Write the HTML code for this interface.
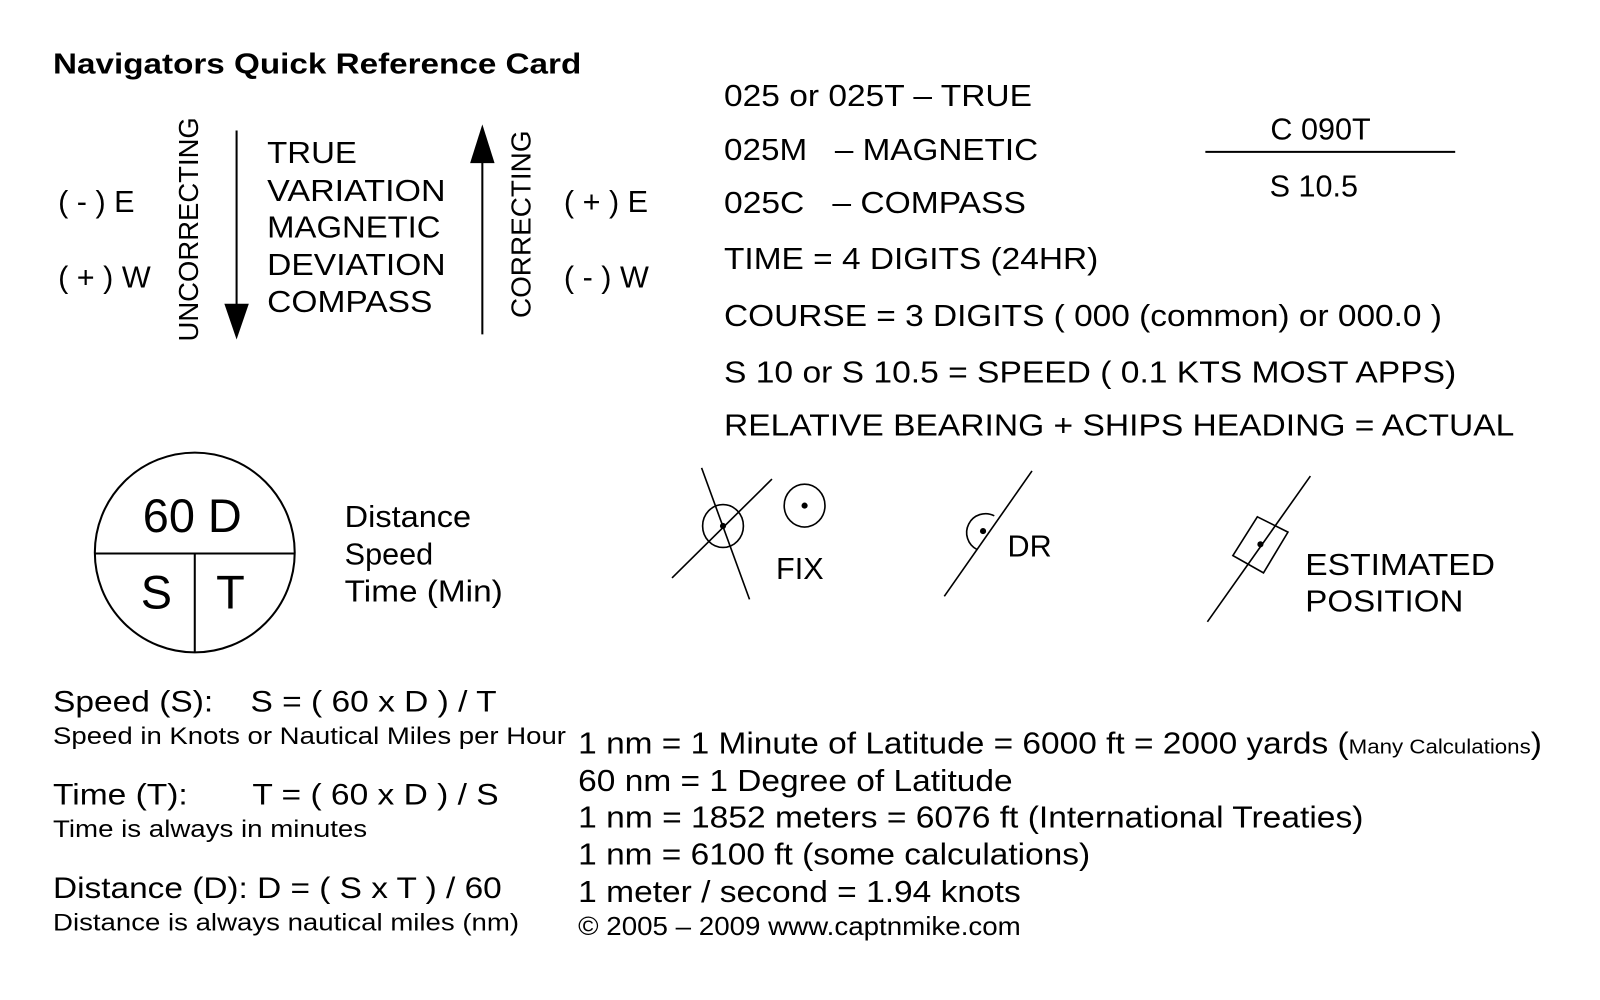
<!DOCTYPE html>
<html><head><style>html,body{margin:0;padding:0;background:#fff}svg{display:block}text{font-family:"Liberation Sans",Arial,sans-serif;fill:#000}</style></head>
<body>
<svg width="1600" height="1000" viewBox="0 0 1569 981" preserveAspectRatio="none" xmlns="http://www.w3.org/2000/svg">
<rect width="1569" height="981" fill="#fff"/>
<text x="52" y="72" font-size="28" font-weight="bold" textLength="518" lengthAdjust="spacingAndGlyphs">Navigators Quick Reference Card</text>
<g font-size="30">
<text x="57" y="208">( - ) E</text>
<text x="57" y="282">( + ) W</text>
<text x="553" y="208">( + ) E</text>
<text x="553" y="282">( - ) W</text>
<text x="262" y="160" textLength="88" lengthAdjust="spacingAndGlyphs">TRUE</text>
<text x="262" y="197" textLength="175" lengthAdjust="spacingAndGlyphs">VARIATION</text>
<text x="262" y="233" textLength="170" lengthAdjust="spacingAndGlyphs">MAGNETIC</text>
<text x="262" y="270" textLength="175" lengthAdjust="spacingAndGlyphs">DEVIATION</text>
<text x="262" y="306" textLength="162" lengthAdjust="spacingAndGlyphs">COMPASS</text>
</g>
<text transform="translate(194,335) rotate(-90)" font-size="27" textLength="220" lengthAdjust="spacingAndGlyphs">UNCORRECTING</text>
<text transform="translate(520,312) rotate(-90)" font-size="27" textLength="184" lengthAdjust="spacingAndGlyphs">CORRECTING</text>
<line x1="232" y1="128" x2="232" y2="305" stroke="#000" stroke-width="2"/>
<polygon points="220,298 244,298 232,333" fill="#000"/>
<line x1="473" y1="155" x2="473" y2="328" stroke="#000" stroke-width="2"/>
<polygon points="461,160 485,160 473,122" fill="#000"/>
<g font-size="30">
<text x="710" y="104" textLength="302" lengthAdjust="spacingAndGlyphs">025 or 025T – TRUE</text>
<text x="710" y="157" textLength="308" lengthAdjust="spacingAndGlyphs">025M&#160;&#160;&#160;– MAGNETIC</text>
<text x="710" y="209" textLength="296" lengthAdjust="spacingAndGlyphs">025C&#160;&#160;&#160;– COMPASS</text>
<text x="710" y="264" textLength="367" lengthAdjust="spacingAndGlyphs">TIME = 4 DIGITS (24HR)</text>
<text x="710" y="320" textLength="704" lengthAdjust="spacingAndGlyphs">COURSE = 3 DIGITS ( 000 (common) or 000.0 )</text>
<text x="710" y="375" textLength="718" lengthAdjust="spacingAndGlyphs">S 10 or S 10.5 = SPEED ( 0.1 KTS MOST APPS)</text>
<text x="710" y="427" textLength="775" lengthAdjust="spacingAndGlyphs">RELATIVE BEARING + SHIPS HEADING = ACTUAL</text>
<text x="1295" y="137" text-anchor="middle">C 090T</text>
<text x="1245" y="193">S 10.5</text>
</g>
<line x1="1182" y1="149" x2="1427" y2="149" stroke="#000" stroke-width="2"/>
<circle cx="191" cy="542" r="98" fill="none" stroke="#000" stroke-width="2"/>
<line x1="93" y1="543" x2="289" y2="543" stroke="#000" stroke-width="2"/>
<line x1="191" y1="543" x2="191" y2="640" stroke="#000" stroke-width="2"/>
<text x="140" y="522" font-size="46">60 D</text>
<text x="138" y="597" font-size="46">S</text>
<text x="212" y="597" font-size="46">T</text>
<g font-size="30">
<text x="338" y="517" textLength="124" lengthAdjust="spacingAndGlyphs">Distance</text>
<text x="338" y="554">Speed</text>
<text x="338" y="590" textLength="155" lengthAdjust="spacingAndGlyphs">Time (Min)</text>
<text x="761" y="568">FIX</text>
<text x="988" y="546">DR</text>
<text x="1280" y="564" textLength="186" lengthAdjust="spacingAndGlyphs">ESTIMATED</text>
<text x="1280" y="600" textLength="155" lengthAdjust="spacingAndGlyphs">POSITION</text>
</g>
<g stroke="#000" stroke-width="1.6" fill="none">
<line x1="659" y1="567" x2="757" y2="470"/>
<line x1="688" y1="459" x2="735" y2="588"/>
<ellipse cx="709" cy="516" rx="20" ry="21"/>
<ellipse cx="789" cy="496" rx="20" ry="21"/>
<line x1="926" y1="585" x2="1012" y2="462"/>
<path d="M975,506 A18,18 0 1 0 958,539"/>
<line x1="1184" y1="610" x2="1285" y2="467"/>
<polygon points="1233,507 1263,522 1239,562 1209,545"/>
</g>
<circle cx="709" cy="516" r="3" fill="#000"/>
<circle cx="789" cy="496" r="3" fill="#000"/>
<circle cx="964" cy="521" r="3" fill="#000"/>
<circle cx="1236" cy="534" r="3" fill="#000"/>
<text x="52" y="698" font-size="29" xml:space="preserve" textLength="435" lengthAdjust="spacingAndGlyphs">Speed (S):    S = ( 60 x D ) / T</text>
<text x="52" y="730" font-size="24" textLength="503" lengthAdjust="spacingAndGlyphs">Speed in Knots or Nautical Miles per Hour</text>
<text x="52" y="789" font-size="29" xml:space="preserve" textLength="437" lengthAdjust="spacingAndGlyphs">Time (T):       T = ( 60 x D ) / S</text>
<text x="52" y="821" font-size="24" textLength="308" lengthAdjust="spacingAndGlyphs">Time is always in minutes</text>
<text x="52" y="881" font-size="29" textLength="440" lengthAdjust="spacingAndGlyphs">Distance (D): D = ( S x T ) / 60</text>
<text x="52" y="913" font-size="24" textLength="457" lengthAdjust="spacingAndGlyphs">Distance is always nautical miles (nm)</text>
<g font-size="30">
<text x="567" y="739" textLength="945" lengthAdjust="spacingAndGlyphs">1 nm = 1 Minute of Latitude = 6000 ft = 2000 yards (<tspan font-size="20">Many Calculations</tspan>)</text>
<text x="567" y="776" textLength="426" lengthAdjust="spacingAndGlyphs">60 nm = 1 Degree of Latitude</text>
<text x="567" y="812" textLength="770" lengthAdjust="spacingAndGlyphs">1 nm = 1852 meters = 6076 ft (International Treaties)</text>
<text x="567" y="848" textLength="502" lengthAdjust="spacingAndGlyphs">1 nm = 6100 ft (some calculations)</text>
<text x="567" y="885" textLength="434" lengthAdjust="spacingAndGlyphs">1 meter / second = 1.94 knots</text>
</g>
<text x="567" y="917" font-size="25" textLength="434" lengthAdjust="spacingAndGlyphs">© 2005 – 2009 www.captnmike.com</text>
</svg>
</body></html>
